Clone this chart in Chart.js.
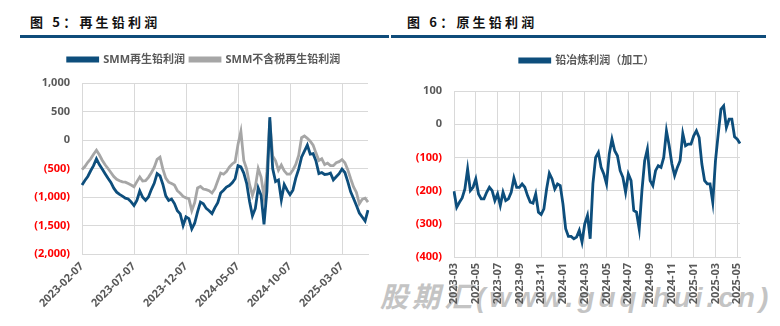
<!DOCTYPE html>
<html>
<head>
<meta charset="utf-8">
<script src="https://cdn.jsdelivr.net/npm/chart.js@4/dist/chart.umd.min.js"></script>
<style>
html, body { margin: 0; padding: 0; background: #fff; }
body { width: 780px; height: 326px; position: relative; overflow: hidden; font-family: 'Noto Sans CJK SC', sans-serif; }
.title { position: absolute; top: 14px; line-height: 16px; font-size: 13px; font-weight: bold; letter-spacing: 3.2px; color: #111; }
.bar { position: absolute; top: 35px; height: 3px; background: #0f4c7a; }
.wrap { position: absolute; top: 40px; width: 390px; height: 286px; z-index: 1; }
#mark { position: absolute; left: 380px; top: 275px; font: italic bold 28px 'Liberation Sans', 'Noto Sans CJK SC', sans-serif; color: #c4c4c4; letter-spacing: 4px; white-space: nowrap; z-index: 0; }
</style>
</head>
<body>
<div class="title" style="left:30px">图 5：再生铅利润</div>
<div class="bar" style="left:20px;width:369px"></div>
<div class="title" style="left:407px">图 6：原生铅利润</div>
<div class="bar" style="left:391px;width:375px"></div>
<div id="mark">股期汇(www.guqihui.cn)</div>
<div class="wrap" style="left:0"><canvas id="leftChart" width="390" height="286"></canvas></div>
<div class="wrap" style="left:390px"><canvas id="rightChart" width="390" height="286"></canvas></div>
<script>
// 图5 再生铅利润 (元/吨), evenly spaced samples
const leftTickLabels = ['2023-02-07', '2023-07-07', '2023-12-07', '2024-05-07', '2024-10-07', '2025-03-07'];
const leftTickEvery = 18;
const smmRecycled = [
    -790, -710, -640, -540, -450, -330, -430, -510, -590, -670,
    -745, -845, -915, -955, -985, -1020, -1035, -1085, -1150, -1060,
    -895, -1005, -1060, -1000, -870, -760, -590, -630, -780, -980,
    -1060, -1035, -1115, -1240, -1295, -1500, -1350, -1380, -1560, -1460,
    -1260, -1090, -1120, -1200, -1240, -1290, -1185, -1100, -930, -880,
    -825, -800, -750, -680, -450, -470, -580, -760, -1080, -1330,
    -1200, -840, -970, -1480, -900, 400, -500, -730, -700, -1050,
    -780, -880, -960, -880, -670, -510, -300, -195, -90, -250,
    -240, -370, -590, -570, -605, -600, -580, -700, -645, -590,
    -510, -570, -730, -910, -1025, -1150, -1280, -1350, -1420, -1230
];
const smmRecycledNoTax = [
    -520, -465, -390, -330, -250, -180, -260, -355, -435, -500,
    -570, -640, -690, -715, -735, -740, -765, -790, -820, -730,
    -650, -720, -715, -655, -575, -480, -340, -300, -510, -670,
    -740, -765, -790, -890, -935, -990, -1015, -1030, -1240, -1100,
    -840, -815, -860, -870, -890, -930, -855, -715, -580, -600,
    -555, -475, -420, -385, -80, 150, -360, -510, -780, -970,
    -820, -500, -650, -1000, -560, 340, -280, -365, -530, -440,
    -540, -600, -600, -525, -430, -270, 40, 70, 30, -20,
    -90, -230, -360, -330, -430, -405, -450, -450, -400, -380,
    -345, -400, -520, -680, -825, -920, -1120, -1040, -1020, -1090
];

// 图6 原生铅利润 (元/吨)
const rightTickLabels = ['2023-03', '2023-05', '2023-07', '2023-09', '2023-11', '2024-01', '2024-03',
    '2024-05', '2024-07', '2024-09', '2024-11', '2025-01', '2025-03', '2025-05'];
const rightTickEvery = 8;
const smeltProfit = [
    -202, -250, -235, -222, -195, -135, -200, -190, -165, -210,
    -225, -225, -205, -190, -200, -230, -210, -245, -205, -230,
    -225, -205, -162, -190, -190, -180, -190, -215, -235, -238,
    -210, -265, -272, -255, -195, -148, -165, -195, -180, -185,
    -240, -315, -338, -338, -345, -340, -320, -355, -300, -275,
    -345, -180, -100, -85, -130, -150, -180, -90, -45, -80,
    -95, -140, -160, -205, -150, -170, -260, -265, -316, -200,
    -110, -75, -170, -185, -140, -125, -130, -100, -20, -65,
    -120, -155, -130, -110, -28, -65, -60, -60, -35, -20,
    -40, -120, -170, -180, -180, -235, -110, -30, 45, 55,
    -10, 15, 15, -38, -45, -58
];

const BLUE = '#0d4e7c';
const GREY = '#a6a6a6';
const GRID = '#d9d9d9';
const TEXT = '#595959';
const tickFont = { family: "'Noto Sans', 'Noto Sans CJK SC', sans-serif", size: 11, weight: 'bold' };

function paren(v) {
    const s = Math.abs(v).toLocaleString('en-US');
    return v < 0 ? '(' + s + ')' : s;
}

// push the plot down from the legend and slide the legend sideways
const legendTweak = {
    id: 'legendTweak',
    beforeInit(chart, args, opts) {
        const fit = chart.legend.fit;
        chart.legend.fit = function () {
            fit.bind(chart.legend)();
            this.height += opts.gap || 0;
        };
    },
    afterLayout(chart, args, opts) {
        chart.legend.left += opts.shift || 0;
        chart.legend.right += opts.shift || 0;
    }
};

function makeChart(id, cfg) {
    const ctx = document.getElementById(id).getContext('2d');
    return new Chart(ctx, {
        type: 'line',
        data: {
            labels: cfg.series[0].data.map((_, i) => i),
            datasets: cfg.series.map(s => ({
                label: s.label,
                data: s.data,
                borderColor: s.color,
                backgroundColor: s.color,
                borderWidth: 2.8,
                pointRadius: 0,
                tension: 0
            }))
        },
        options: {
            responsive: false,
            animation: false,
            layout: { padding: cfg.padding },
            scales: {
                x: {
                    offset: false,
                    afterBuildTicks: axis => { axis.ticks = axis.ticks.filter(t => t.value % cfg.every === 0); },
                    afterFit: scale => { scale.height = cfg.xHeight; },
                    grid: { color: GRID, drawTicks: false },
                    border: { color: GRID },
                    ticks: {
                        autoSkip: false,
                        minRotation: cfg.rotation,
                        maxRotation: cfg.rotation,
                        padding: 6,
                        color: TEXT,
                        font: tickFont,
                        callback: v => cfg.tickLabels[v / cfg.every]
                    }
                },
                y: {
                    min: cfg.min, max: cfg.max,
                    afterFit: scale => { scale.width = cfg.yWidth; },
                    grid: { color: GRID, drawTicks: false },
                    border: { display: false },
                    ticks: {
                        stepSize: cfg.step,
                        padding: 12,
                        font: tickFont,
                        color: c => c.tick.value < 0 ? '#ff0000' : TEXT,
                        callback: v => paren(v)
                    }
                }
            },
            plugins: {
                legendTweak: { gap: cfg.gap, shift: cfg.shift },
                legend: {
                    labels: {
                        boxWidth: 30, boxHeight: 3, padding: 5,
                        color: TEXT,
                        font: { family: "'Noto Sans', 'Noto Sans CJK SC', sans-serif", size: 11, weight: 'bold' }
                    }
                },
                tooltip: { enabled: false }
            }
        },
        plugins: [legendTweak]
    });
}

makeChart('leftChart', {
    series: [
        { label: 'SMM再生铅利润', data: smmRecycled, color: BLUE },
        { label: 'SMM不含税再生铅利润', data: smmRecycledNoTax, color: GREY }
    ],
    tickLabels: leftTickLabels, every: leftTickEvery, rotation: 45,
    min: -2000, max: 1000, step: 500,
    padding: { left: 0, right: 22, top: 9, bottom: 0 },
    yWidth: 82, xHeight: 72, gap: 8, shift: 20
});

makeChart('rightChart', {
    series: [{ label: '铅冶炼利润（加工）', data: smeltProfit, color: BLUE }],
    tickLabels: rightTickLabels, every: rightTickEvery, rotation: 90,
    min: -400, max: 100, step: 100,
    padding: { left: 0, right: 40, top: 10, bottom: 0 },
    yWidth: 64, xHeight: 69, gap: 15, shift: 22
});
</script>
</body>
</html>
